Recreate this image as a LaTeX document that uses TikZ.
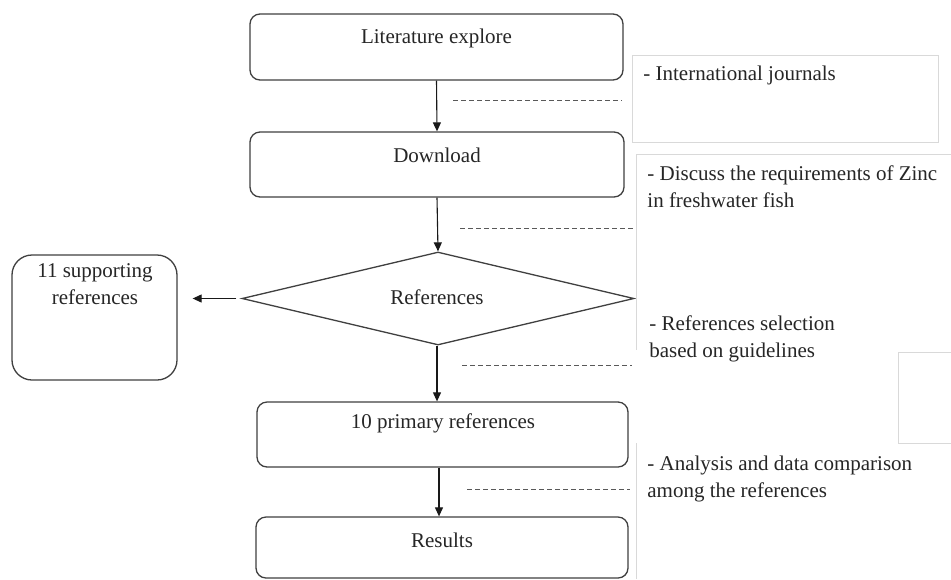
\documentclass[tikz,border=0pt]{standalone}
\usepackage{fontspec}
\setmainfont{Liberation Serif}
\newfontfamily\tnrfont{Liberation Serif}
\usetikzlibrary{shapes.geometric,arrows.meta,calc}
\begin{document}
\begin{tikzpicture}[x=0.5pt,y=-0.5pt,
  box/.style={draw=black!75, line width=0.65pt, rounded corners=5pt, inner sep=0pt},
  diam/.style={draw=black!75, line width=0.65pt, shape=diamond, inner sep=0pt},
  txt/.style={font=\tnrfont\fontsize{10.5pt}{13.5pt}\selectfont, inner sep=0pt, text=black!85},
  side/.style={txt, anchor=west, align=left},
  arr/.style={draw=black!90, line width=0.55pt, -{Triangle[length=4.5pt,width=4pt]}},
  leader/.style={draw=black!65, line width=0.45pt, dash pattern=on 2.5pt off 1.5pt},
  frame/.style={draw=black!15, line width=0.45pt}
]
\useasboundingbox (0,0) rectangle (951,579);
\fill[white] (0,0) rectangle (951,579);

% main boxes
\node[box, minimum width=186.5pt, minimum height=33pt] (lit) at (436.5,47) {};
\node[txt] (litT) at (436.5,38) {Literature explore};
\node[box, minimum width=187pt, minimum height=32.5pt] (dl) at (437,164.5) {};
\node[txt] (dlT) at (437,155) {Download};
\node[diam, minimum width=196pt, minimum height=46.5pt] (refs) at (438,298.5) {};
\node[txt] (refsT) at (437,297) {References};
\node[box, rounded corners=10pt, minimum width=82.5pt, minimum height=62.5pt] (sup) at (94.5,317.5) {};
\node[txt, align=center] (supT) at (95,284.5) {11 supporting\\references};
\node[box, minimum width=185.5pt, minimum height=32.5pt] (prim) at (442.5,434.5) {};
\node[txt] (primT) at (443,423) {10 primary references};
\node[box, minimum width=186pt, minimum height=30.5pt] (res) at (442,547.5) {};
\node[txt] (resT) at (442,540) {Results};

% connectors
\coordinate (a3) at ($(refs.south)+(-1,0)$);
\coordinate (a4) at ($(prim.south)+(-3.5,0)$);
\draw[arr] (lit.south) -- (dl.north);
\draw[arr] (dl.south) -- (refs.north);
\draw[arr] (a3) -- (a3 |- prim.north);
\draw[arr] (a4) -- (a4 |- res.north);
\draw[arr, shorten <=2.5pt, shorten >=7.5pt] (refs.west) -- (refs.west -| sup.east);

% side frames
\draw[frame] (632,55) rectangle (938,142);
\draw[frame] (951,154) -- (636,154) -- (636,350);
\draw[frame] (951,352) -- (898,352) -- (898,443) -- (951,443);
\draw[frame] (636,443) -- (636,579);

% side notes
\node[side] (n1) at (643,75) {- International journals};
\node[side] (n2) at (647,186.5) {- Discuss the requirements of Zinc\\in freshwater fish};
\node[side] (n3) at (649,339) {- References selection\\based on guidelines};
\node[side] (n4) at (647,478.5) {- Analysis and data comparison\\among the references};

% dashed leaders
\coordinate (d1a) at (453,100); \coordinate (d1b) at (622,100);
\coordinate (d2a) at (460,228); \coordinate (d2b) at (633,228);
\coordinate (d3a) at (462,365); \coordinate (d3b) at (632,365);
\coordinate (d4a) at (467,489); \coordinate (d4b) at (630,489);
\draw[leader] (d1a) -- (d1b);
\draw[leader] (d2a) -- (d2b);
\draw[leader] (d3a) -- (d3b);
\draw[leader] (d4a) -- (d4b);
\end{tikzpicture}
\end{document}
